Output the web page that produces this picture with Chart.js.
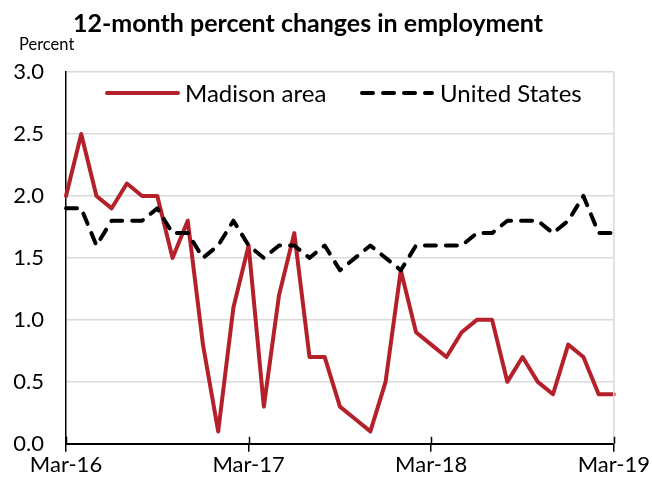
<!DOCTYPE html>
<html>
<head>
<meta charset="utf-8">
<script src="https://cdn.jsdelivr.net/npm/chart.js@4"></script>
<style>
  html, body { margin: 0; padding: 0; background: #ffffff; }
  #wrap { width: 652px; height: 479px; }
</style>
</head>
<body>
<div id="wrap"><canvas id="chart" width="652" height="479"></canvas></div>
<script>
// Monthly periods, March 2016 through March 2019
const months = [
  'Mar-16','Apr-16','May-16','Jun-16','Jul-16','Aug-16','Sep-16','Oct-16','Nov-16','Dec-16','Jan-17','Feb-17',
  'Mar-17','Apr-17','May-17','Jun-17','Jul-17','Aug-17','Sep-17','Oct-17','Nov-17','Dec-17','Jan-18','Feb-18',
  'Mar-18','Apr-18','May-18','Jun-18','Jul-18','Aug-18','Sep-18','Oct-18','Nov-18','Dec-18','Jan-19','Feb-19',
  'Mar-19'
];

// 12-month percent change in employment
const madisonArea = [
  2.0, 2.5, 2.0, 1.9, 2.1, 2.0, 2.0, 1.5, 1.8, 0.8, 0.1, 1.1,
  1.6, 0.3, 1.2, 1.7, 0.7, 0.7, 0.3, 0.2, 0.1, 0.5, 1.4, 0.9,
  0.8, 0.7, 0.9, 1.0, 1.0, 0.5, 0.7, 0.5, 0.4, 0.8, 0.7, 0.4,
  0.4
];
const unitedStates = [
  1.9, 1.9, 1.6, 1.8, 1.8, 1.8, 1.9, 1.7, 1.7, 1.5, 1.6, 1.8,
  1.6, 1.5, 1.6, 1.6, 1.5, 1.6, 1.4, 1.5, 1.6, 1.5, 1.4, 1.6,
  1.6, 1.6, 1.6, 1.7, 1.7, 1.8, 1.8, 1.8, 1.7, 1.8, 2.0, 1.7,
  1.7
];

// Labelled x positions (one per year) and y-axis ticks
const yearTicks = ['Mar-16', 'Mar-17', 'Mar-18', 'Mar-19'];
const yTicks = [0.0, 0.5, 1.0, 1.5, 2.0, 2.5, 3.0];

const titleText = '12-month percent changes in employment';
const unitText = 'Percent';

const FONT = 'Lato, "Open Sans", sans-serif';
const RED = '#b5212a';
const GRID = '#d9d9d9';

// Title, unit label, legend, plot frame and crossing tick marks
const decorations = {
  id: 'decorations',
  afterDraw(chart) {
    const ctx = chart.ctx;
    const area = chart.chartArea;
    const x = chart.scales.x;
    ctx.save();

    // right-hand frame line
    ctx.strokeStyle = GRID;
    ctx.lineWidth = 1.5;
    ctx.beginPath();
    ctx.moveTo(area.right, area.top);
    ctx.lineTo(area.right, area.bottom);
    ctx.stroke();

    // inner half of the year tick marks
    ctx.strokeStyle = '#000';
    ctx.lineWidth = 1.5;
    yearTicks.forEach(lbl => {
      const px = Math.round(x.getPixelForValue(months.indexOf(lbl))) + 0.5;
      ctx.beginPath();
      ctx.moveTo(px, area.bottom - 7);
      ctx.lineTo(px, area.bottom);
      ctx.stroke();
    });

    // title
    ctx.fillStyle = '#000';
    ctx.font = 'bold 25px ' + FONT;
    ctx.textAlign = 'center';
    ctx.textBaseline = 'alphabetic';
    ctx.fillText(titleText, 308, 32);

    // unit label
    ctx.font = '16.5px ' + FONT;
    ctx.textAlign = 'left';
    ctx.fillText(unitText, 19, 50);

    // legend
    const items = chart.data.datasets;
    const entries = [
      { ds: items[0], x0: 107, x1: 178, tx: 185 },
      { ds: items[1], x0: 362, x1: 432, tx: 440 }
    ];
    const ly = 93;
    ctx.font = '24px ' + FONT;
    entries.forEach(e => {
      ctx.save();
      ctx.strokeStyle = e.ds.borderColor;
      ctx.lineWidth = e.ds.borderWidth;
      ctx.lineCap = 'round';
      ctx.setLineDash(e.ds.borderDash || []);
      ctx.beginPath();
      ctx.moveTo(e.x0, ly);
      ctx.lineTo(e.x1, ly);
      ctx.stroke();
      ctx.restore();
      ctx.fillStyle = '#000';
      ctx.textBaseline = 'middle';
      ctx.fillText(e.ds.label, e.tx, ly + 1);
    });

    ctx.restore();
  }
};

new Chart(document.getElementById('chart'), {
  type: 'line',
  data: {
    labels: months,
    datasets: [
      {
        label: 'Madison area',
        data: madisonArea,
        borderColor: RED,
        backgroundColor: RED,
        borderWidth: 4,
        borderJoinStyle: 'round',
        borderCapStyle: 'round',
        pointRadius: 0,
        tension: 0,
        order: 2
      },
      {
        label: 'United States',
        data: unitedStates,
        borderColor: '#000000',
        backgroundColor: '#000000',
        borderWidth: 4,
        borderDash: [11, 10],
        borderJoinStyle: 'round',
        borderCapStyle: 'round',
        pointRadius: 0,
        tension: 0,
        order: 1
      }
    ]
  },
  options: {
    responsive: false,
    animation: false,
    layout: { padding: { top: 72, left: 14, right: 4, bottom: -3 } },
    plugins: {
      legend: { display: false },
      title: { display: false },
      tooltip: { enabled: false }
    },
    scales: {
      x: {
        type: 'category',
        offset: false,
        grid: {
          drawOnChartArea: false,
          drawTicks: true,
          tickLength: 8,
          lineWidth: 1.5,
          color: ctx => (ctx.tick && yearTicks.includes(months[ctx.index])) ? '#000' : 'rgba(0,0,0,0)'
        },
        border: { display: true, color: '#000', width: 2 },
        ticks: {
          autoSkip: false,
          maxRotation: 0,
          padding: 2,
          color: '#000',
          font: { family: FONT, size: 22, lineHeight: 1.0 },
          callback: function (value, index) {
            const lbl = months[index];
            return yearTicks.includes(lbl) ? lbl : '';
          }
        }
      },
      y: {
        min: 0,
        max: 3,
        afterBuildTicks: axis => { axis.ticks = yTicks.map(v => ({ value: v })); },
        afterFit: axis => { axis.width = 52; },
        grid: { color: GRID, lineWidth: 1.5, drawTicks: false },
        border: { display: true, color: '#000', width: 1.5 },
        ticks: {
          padding: 22,
          color: '#000',
          font: { family: FONT, size: 22 },
          callback: v => Number(v).toFixed(1)
        }
      }
    }
  },
  plugins: [decorations]
});
</script>
</body>
</html>
